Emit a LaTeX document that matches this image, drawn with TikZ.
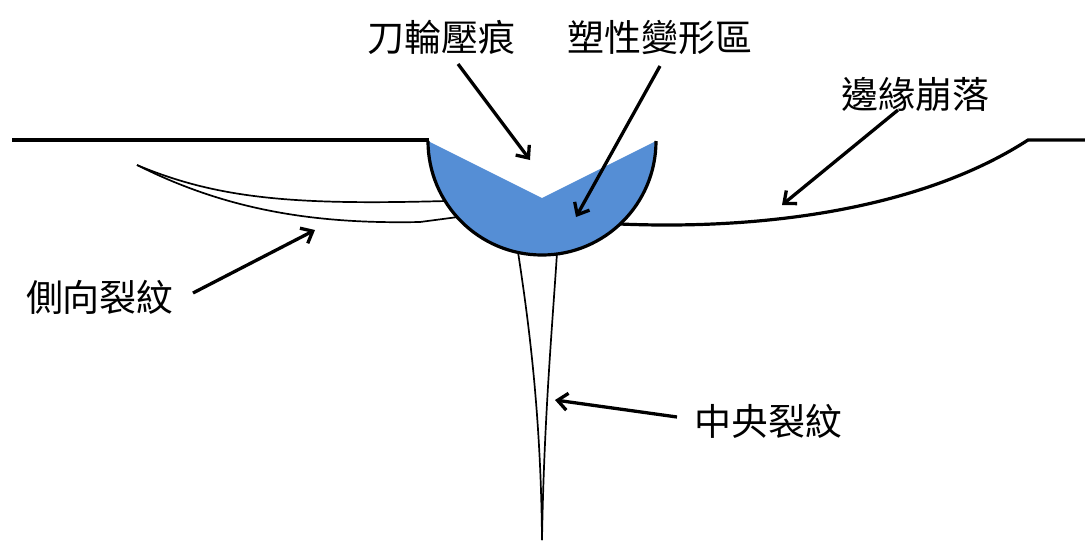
\documentclass[tikz,border=0pt]{standalone}
\usepackage{fontspec}
\newfontfamily\cjk{Noto Sans CJK TC}
\usetikzlibrary{arrows.meta}
\definecolor{zoneblue}{RGB}{85,142,213}
\tikzset{
  surface/.style={line width=3.2pt, line join=miter},
  crack/.style={line width=1.7pt},
  pointer/.style={line width=3.3pt, -{Straight Barb[length=10pt,width=17pt,line width=3.3pt]}},
  lbl/.style={font=\cjk\fontsize{37}{42}\selectfont, inner sep=0pt}
}
\begin{document}
\begin{tikzpicture}[x=1pt,y=-1pt]
\useasboundingbox (0,0) rectangle (1085,542);

% work surface on both sides of the groove
\draw[surface] (12,140) -- (429,140);
\draw[surface] (1085,140) -- (1028,140)
  .. controls (920,210) and (760,230) .. (620,224);

% lateral crack
\draw[crack] (137,165) .. controls (220,200) and (300,205) .. (446,201);
\draw[crack] (137,165) .. controls (230,212) and (320,224) .. (420,222) -- (458,217);

% median crack
\draw[crack] (518,252) .. controls (530,330) and (541,420) .. (542,540);
\draw[crack] (557,253) .. controls (552,330) and (544,420) .. (542,540);

% plastic zone under the wheel
\fill[zoneblue] (428,141) arc[start angle=180,end angle=0,radius=114] -- (542,198) -- cycle;
\draw[surface] (428,141) arc[start angle=180,end angle=0,radius=114];

% labels
\node[lbl] (dent) at (441,37) {刀輪壓痕};
\node[lbl] (plastic) at (660,37) {塑性變形區};
\node[lbl] (chip) at (915,94) {邊緣崩落};
\node[lbl] (lateral) at (100,297) {側向裂紋};
\node[lbl] (median) at (768,421) {中央裂紋};

% arrow ends
\coordinate (dentA) at (458,64);
\coordinate (dentB) at (530,160);
\coordinate (plasticA) at (660,66);
\coordinate (plasticB) at (576,217);
\coordinate (chipA) at (898,110);
\coordinate (chipB) at (782,205);
\coordinate (latA) at (193,293);
\coordinate (latB) at (315,230);
\coordinate (medA) at (677,417);
\coordinate (medB) at (555,400);

\draw[pointer] (dentA) -- (dentB);
\draw[pointer] (plasticA) -- (plasticB);
\draw[pointer] (chipA) -- (chipB);
\draw[pointer] (latA) -- (latB);
\draw[pointer] (medA) -- (medB);
\end{tikzpicture}
\end{document}
